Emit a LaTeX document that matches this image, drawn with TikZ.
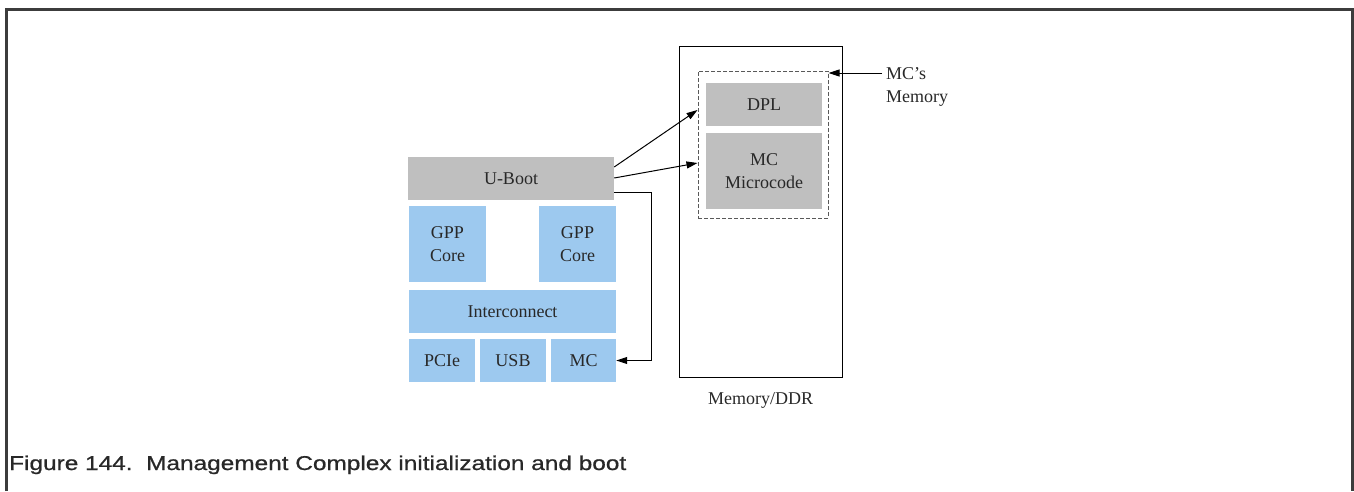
\documentclass[tikz,border=0pt]{standalone}
\usepackage{fontspec}
\setmainfont{Liberation Serif}
\newfontfamily\capfont[FakeStretch=1.22, FakeBold=0.8]{Liberation Sans}
\usepackage{tikz}
\usetikzlibrary{arrows.meta, positioning, calc}
\definecolor{blockgray}{RGB}{191, 191, 191}
\definecolor{blockblue}{RGB}{157, 201, 239}
\definecolor{framegray}{RGB}{60, 60, 60}
\definecolor{textgray}{RGB}{40, 40, 40}

\begin{document}
\begin{tikzpicture}[x=1pt, y=-1pt,
    block/.style={rectangle, inner sep=0pt, align=center, text=textgray,
                  font=\fontsize{18}{23}\selectfont},
    gblock/.style={block, fill=blockgray},
    bblock/.style={block, fill=blockblue},
    arr/.style={-{Triangle[length=11pt, width=7pt]}, line width=1pt},
    label/.style={font=\fontsize{18}{23}\selectfont, text=textgray, inner sep=0pt}
]
    \useasboundingbox (0,0) rectangle (1354,491);
    % outer frame, open at the bottom
    \draw[framegray, line width=3pt] (6,491) -- (6,9) -- (1352,9) -- (1352,491);

    % SoC side
    \node[gblock, minimum width=206pt, minimum height=43pt] (uboot) at (511,178.5) {U-Boot};
    \node[bblock, minimum width=77pt, minimum height=76pt] (gpp1) at (447.5,244) {GPP\\Core};
    \node[bblock, minimum width=77pt, minimum height=76pt] (gpp2) at (577.5,244) {GPP\\Core};
    \node[bblock, minimum width=207pt, minimum height=43pt] (inter) at (512.5,311.5) {Interconnect};
    \node[bblock, minimum width=66pt, minimum height=43pt] (pcie) at (442,360.5) {PCIe};
    \node[bblock, minimum width=66pt, minimum height=43pt] (usb) at (513,360.5) {USB};
    \node[bblock, minimum width=65pt, minimum height=43pt] (mc) at (583.5,360.5) {MC};

    % memory side
    \node[draw, line width=1pt, minimum width=163pt, minimum height=331pt] (ddr) at (760.5,211.5) {};
    \node[draw=black!65, dash pattern=on 4pt off 2pt, line width=1pt,
          minimum width=130pt, minimum height=147pt] (mcmem) at (763,144.5) {};
    \node[gblock, minimum width=116pt, minimum height=43pt] (dpl) at (764,104.5) {DPL};
    \node[gblock, minimum width=116pt, minimum height=76pt] (ucode) at (764,171) {MC\\Microcode};
    \node[label, below=15pt of ddr] (ddrlbl) {Memory/DDR};
    \node[label, align=left, anchor=north west] (memlbl) at (886,67) {MC's\\Memory};
    \coordinate (memtip) at (882,73);

    % connectors
    \draw[arr] (memtip) -- (mcmem.east |- memtip);
    \draw[arr] ($(uboot.east)+(0,-11.5)$) -- ($(mcmem.west)+(0,-34.5)$);
    \draw[arr] ($(uboot.east)+(0,-0.5)$) -- ($(mcmem.west)+(0,18.5)$);
    \draw[arr] ($(uboot.east)+(0,13.5)$) -- ++(37,0) |- (mc.east);

    % caption
    \node[anchor=base west, inner sep=0pt, text=textgray, font=\capfont\fontsize{20}{24}\selectfont] (caption) at (9,470)
        {Figure 144.\ \ Management Complex initialization and boot};
\end{tikzpicture}
\end{document}
